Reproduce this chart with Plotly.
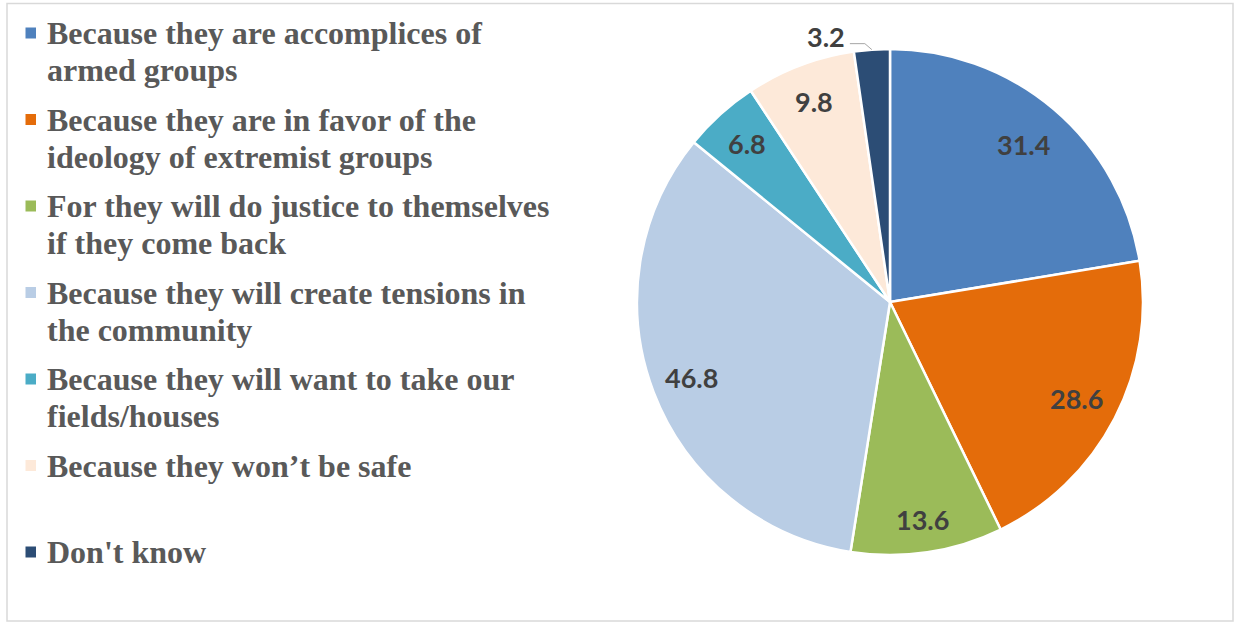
import math
import plotly.graph_objects as go

W, H = 1234, 622

labels = [
    "Because they are accomplices of\narmed groups",
    "Because they are in favor of the\nideology of extremist groups",
    "For they will do justice to themselves\nif they come back",
    "Because they will create tensions in\nthe community",
    "Because they will want to take our\nfields/houses",
    "Because they won\u2019t be safe",
    "Don't know",
]
values = [31.4, 28.6, 13.6, 46.8, 6.8, 9.8, 3.2]
colors = ["#4F81BD", "#E46C0A", "#9BBB59", "#B9CDE5", "#4BACC6", "#FDE9D9", "#2C4D75"]

# label placement (fraction of radius) for inside labels
label_radius = [0.817, 0.832, 0.87, 0.84, 0.844, 0.846]

# geometry (pixels)
CX, CY, R = 890, 302, 253


def px(x):
    return x / W


def py(y):
    return 1 - y / H


fig = go.Figure()
fig.add_trace(go.Pie(
    labels=[l.replace("\n", " ") for l in labels],
    values=values,
    marker=dict(colors=colors, line=dict(color="white", width=2.5)),
    sort=False,
    direction="clockwise",
    rotation=0,
    textinfo="none",
    hoverinfo="label+value",
    showlegend=False,
    domain=dict(x=[px(CX - R), px(CX + R)], y=[py(CY + R), py(CY - R)]),
))

annotations = []
shapes = []

# data labels, positioned from the slice angles
total = sum(values)
cum = 0.0
for i, v in enumerate(values):
    mid = (cum + v / 2) / total * 2 * math.pi
    cum += v
    if i == len(values) - 1:
        # outside label with leader line
        ex = CX + R * math.sin(mid)
        ey = CY - R * math.cos(mid)
        kx, ky = ex - 7, ey - 6
        lx = kx - 15
        shapes.append(dict(type="path", xref="paper", yref="paper",
                           path=f"M {px(ex)} {py(ey)} L {px(kx)} {py(ky)} L {px(lx)} {py(ky)}",
                           line=dict(color="#A6A6A6", width=1)))
        annotations.append(dict(x=px(lx - 3), y=py(ky - 7), xref="paper", yref="paper",
                                text=f"{v}", showarrow=False, xanchor="right", yanchor="middle",
                                font=dict(family="Lato", size=27, color="#404040", weight="bold")))
    else:
        rr = label_radius[i] * R
        x = CX + rr * math.sin(mid)
        y = CY - rr * math.cos(mid)
        annotations.append(dict(x=px(x), y=py(y), xref="paper", yref="paper",
                                text=f"{v}", showarrow=False, xanchor="center", yanchor="middle",
                                font=dict(family="Lato", size=27, color="#404040", weight="bold")))

# custom legend
LY0, LSTEP, LLINE = 33, 86.5, 37
for i, (lab, col) in enumerate(zip(labels, colors)):
    y0 = LY0 + i * LSTEP
    shapes.append(dict(type="rect", xref="paper", yref="paper",
                       x0=px(25.5), x1=px(36), y0=py(y0 - 5.5), y1=py(y0 + 5.5),
                       fillcolor=col, line=dict(width=0)))
    for j, line in enumerate(lab.split("\n")):
        annotations.append(dict(x=px(45), y=py(y0 + j * LLINE), xref="paper", yref="paper",
                                text=line, showarrow=False, xanchor="left", yanchor="middle",
                                font=dict(family="Liberation Serif", size=32, color="#595959",
                                          weight="bold")))

# outer border
shapes.append(dict(type="rect", xref="paper", yref="paper",
                   x0=px(7), x1=px(1233), y0=py(621), y1=py(3.5),
                   line=dict(color="#D9D9D9", width=1.5), fillcolor="rgba(0,0,0,0)"))

fig.update_layout(
    width=W, height=H,
    margin=dict(l=0, r=0, t=0, b=0),
    paper_bgcolor="white",
    plot_bgcolor="white",
    annotations=annotations,
    shapes=shapes,
)

fig.write_html("out.html")
